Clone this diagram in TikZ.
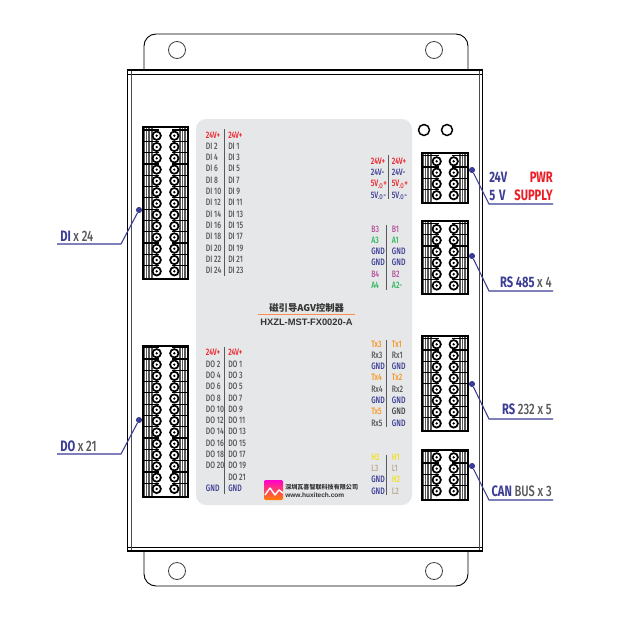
\documentclass[tikz,border=0pt]{standalone}
\usepackage{fontspec}
\newfontfamily\cf[FakeStretch=0.74]{Fira Sans Medium}
\newfontfamily\cfb[FakeStretch=0.74]{Fira Sans Bold}
\newfontfamily\cjk{Noto Sans CJK SC}
\setmainfont{Liberation Sans}
\definecolor{cred}{HTML}{ED1C24}
\definecolor{cgray}{HTML}{58595B}
\definecolor{cblue}{HTML}{3B3C94}
\definecolor{cmag}{HTML}{B5549C}
\definecolor{cgrn}{HTML}{2DB55D}
\definecolor{corg}{HTML}{F7941D}
\definecolor{cyel}{HTML}{F2E11B}
\definecolor{ctan}{HTML}{BCA98F}
\definecolor{panel}{HTML}{E6E7E8}
\tikzset{
 lbl/.style={anchor=base west,inner sep=0pt,font=\cf\fontsize{7}{7}\selectfont},
 biglbl/.style={inner sep=0pt,font=\cfb\fontsize{11.3}{12}\selectfont},
 divider/.style={draw=cgray,line width=.8pt},
 dot/.style={circle,fill=cblue,inner sep=0pt,minimum size=4.6pt},
 leader/.style={draw=cblue,line width=.8pt},
 hole/.style={draw=black!75,line width=.6pt,fill=white},
 ring/.style={draw=black,line width=1.3pt,fill=white},
 body/.style={draw=black,line width=.7pt}
}
\newcommand{\gtx}[1]{\textcolor{cgray}{\cf #1}}
\newcommand{\btx}[1]{\textcolor{cblue}{#1}}
% name, x0, x1, ytop, ybot, yfirst, rows-1, cx1, cx2
\newcommand{\termblock}[9]{%
 \fill[white] (#2,#4) rectangle (#3,#5);
 \fill[black!65] (#2,#4) rectangle ({#2+10},#5);
 \fill[black!65] ({#3-9},#4) rectangle (#3,#5);
 \foreach \dx in {2,4.5,7}{
   \draw[white,line width=.45pt] ({#2+\dx},#4) -- ({#2+\dx},#5);
   \draw[white,line width=.45pt] ({#3-\dx},#4) -- ({#3-\dx},#5);
 }
 \foreach \r in {0,...,#7}{
   \draw[black,line width=.9pt] (#2,{#6+11.3*\r-5.65}) -- ({#8+2},{#6+11.3*\r-5.65});
   \draw[black,line width=.9pt] ({#9-2},{#6+11.3*\r-5.65}) -- (#3,{#6+11.3*\r-5.65});
   \draw[ring] (#8,{#6+11.3*\r}) circle (4.2);
   \draw[ring] (#9,{#6+11.3*\r}) circle (4.2);
   \fill[black] (#8,{#6+11.3*\r}) circle (1.3);
   \fill[black] (#9,{#6+11.3*\r}) circle (1.3);
 }
 \draw[black,line width=1.2pt] (#2,#4) rectangle (#3,#5);
 \coordinate (#1) at ({(#2+#3)/2},{(#4+#5)/2});
}
\begin{document}
\begin{tikzpicture}[x=.75pt,y=-.75pt]
\useasboundingbox (0,0) rectangle (622,643);
\fill[white] (0,0) rectangle (622,643);
% flanges
\draw[body,rounded corners=9pt] (144,70) -- (144,34) -- (468,34) -- (468,70);
\draw[body,rounded corners=9pt] (144,551) -- (144,586) -- (468,586) -- (468,551);
\draw[hole] (177,50) circle (8.5);
\draw[hole] (434,50) circle (8.5);
\draw[hole] (177,571) circle (8.5);
\draw[hole] (434,571) circle (8.5);
% enclosure
\draw[line width=.9pt] (127.5,70) rectangle (482.5,551.5);
\draw[line width=.6pt] (127.5,74) -- (482.5,74);
\draw[line width=.6pt] (127.5,547.5) -- (482.5,547.5);
\draw[line width=.6pt,draw=black!70] (131,70) -- (131,551.5);
\draw[line width=.6pt,draw=black!70] (479,70) -- (479,551.5);
\draw[line width=1.3pt] (127,70) -- (483,70);
\draw[line width=1.3pt] (127,551) -- (483,551);
% panel
\fill[panel,rounded corners=7.5pt] (196,119) rectangle (412,505);
\draw[black,line width=1.1pt,fill=white] (424,130) circle (5.5);
\draw[black,line width=1.1pt,fill=white] (447,130) circle (5.5);
% terminal blocks
\termblock{tdi}{143}{188}{127}{279}{135.7}{12}{156.7}{174.3}
\termblock{tdo}{143}{188}{345.7}{497}{353.3}{12}{156.7}{174.3}
\termblock{tpw}{422}{468}{153}{203}{161.3}{3}{436.7}{453.7}
\termblock{tra}{422}{468}{220.7}{293.7}{229}{5}{436.7}{453.7}
\termblock{trb}{422}{468}{335.7}{431}{344.3}{7}{436.7}{453.7}
\termblock{tcn}{422}{468}{450}{500}{457.3}{3}{436.7}{453.7}
% DI labels
\draw[divider] (224.3,129) -- (224.3,276);
\foreach \c/\t [count=\i from 0] in {cred/24V+,cgray/DI 2,cgray/DI 4,cgray/DI 6,cgray/DI 8,cgray/DI 10,cgray/DI 12,cgray/DI 14,cgray/DI 16,cgray/DI 18,cgray/DI 20,cgray/DI 22,cgray/DI 24}
  \node[lbl,text=\c,name=dil\i] at (205.7,{138+11.3*\i}) {\t};
\foreach \c/\t [count=\i from 0] in {cred/24V+,cgray/DI 1,cgray/DI 3,cgray/DI 5,cgray/DI 7,cgray/DI 9,cgray/DI 11,cgray/DI 13,cgray/DI 15,cgray/DI 17,cgray/DI 19,cgray/DI 21,cgray/DI 23}
  \node[lbl,text=\c,name=dir\i] at (228,{138+11.3*\i}) {\t};
% DO labels
\draw[divider] (224.3,347) -- (224.3,494);
\foreach \c/\t [count=\i from 0] in {cred/24V+,cgray/DO 2,cgray/DO 4,cgray/DO 6,cgray/DO 8,cgray/DO 10,cgray/DO 12,cgray/DO 14,cgray/DO 16,cgray/DO 18,cgray/DO 20,cgray/{},cblue/GND}
  \node[lbl,text=\c,name=dol\i] at (205.7,{355.8+11.3*\i}) {\t};
\foreach \c/\t [count=\i from 0] in {cred/24V+,cgray/DO 1,cgray/DO 3,cgray/DO 5,cgray/DO 7,cgray/DO 9,cgray/DO 11,cgray/DO 13,cgray/DO 15,cgray/DO 17,cgray/DO 19,cgray/DO 21,cblue/GND}
  \node[lbl,text=\c,name=dor\i] at (228,{355.8+11.3*\i}) {\t};
% PWR labels
\draw[divider] (388.3,155) -- (388.3,199);
\foreach \c/\t [count=\i from 0] in {cred/24V+,cblue/24V-,cred/5V\textsubscript{.O}+,cblue/5V\textsubscript{.O}-}{
  \node[lbl,text=\c,name=pwl\i] at (370.7,{164.3+11.3*\i}) {\t};
  \node[lbl,text=\c,name=pwr\i] at (391.7,{164.3+11.3*\i}) {\t};
}
% RS485 labels
\draw[divider] (386.7,225) -- (386.7,290);
\foreach \c/\t [count=\i from 0] in {cmag/B3,cgrn/A3,cblue/GND,cblue/GND,cmag/B4,cgrn/A4}
  \node[lbl,text=\c,name=ral\i] at (371,{232+11.3*\i}) {\t};
\foreach \c/\t [count=\i from 0] in {cmag/B1,cgrn/A1,cblue/GND,cblue/GND,cmag/B2,cgrn/A2-}
  \node[lbl,text=\c,name=rar\i] at (391.7,{232+11.3*\i}) {\t};
% RS232 labels
\draw[divider] (386.7,340) -- (386.7,427);
\foreach \c/\t [count=\i from 0] in {corg/Tx3,cgray/Rx3,cblue/GND,corg/Tx4,cgray/Rx4,cblue/GND,corg/Tx5,cgray/Rx5}
  \node[lbl,text=\c,name=rbl\i] at (371,{347+11.3*\i}) {\t};
\foreach \c/\t [count=\i from 0] in {corg/Tx1,cgray/Rx1,cblue/GND,corg/Tx2,cgray/Rx2,cblue/GND,black!75/GND,cblue/GND}
  \node[lbl,text=\c,name=rbr\i] at (391.7,{347+11.3*\i}) {\t};
% CAN labels
\draw[divider] (386.7,455) -- (386.7,495);
\foreach \c/\t [count=\i from 0] in {cyel/H3,ctan/L3,cblue/GND,cblue/GND}
  \node[lbl,text=\c,name=cnl\i] at (371,{460.3+11.3*\i}) {\t};
\foreach \c/\t [count=\i from 0] in {cyel/H1,ctan/L1,cyel/H2,ctan/L2}
  \node[lbl,text=\c,name=cnr\i] at (391.7,{460.3+11.3*\i}) {\t};
% title
\node[inner sep=0pt,text=black!80,font=\cjk\fontsize{7}{8}\selectfont\bfseries] (title) at (306.7,307.7) {磁引导AGV控制器};
\coordinate (ula) at (258,314.3);
\coordinate (ulb) at (355,314.3);
\draw[draw=orange!70!red!70!white,line width=1pt] (ula) -- (ulb);
\node[inner sep=0pt,text=black!80,font=\fontsize{7}{8}\selectfont\bfseries] (model) at (306.5,322.5) {HXZL-MST-FX0020-A};
% logo
\shade[top color=magenta!80!red,bottom color=orange,rounded corners=1pt] (264,480) rectangle (283,500);
\draw[white,line width=1.1pt,line join=round] (265,495) -- (270,488) -- (275,495) -- (279,490) -- (283,493);
\node[inner sep=0pt,anchor=west,text=black!80,font=\cjk\fontsize{4.55}{5}\selectfont\bfseries] (cname) at (285,487.5) {深圳瓦喜智联科技有限公司};
\node[inner sep=0pt,anchor=west,text=black!80,font=\fontsize{4.9}{5}\selectfont\bfseries] (curl) at (285,495.5) {www.huxitech.com};
% callouts
\node[dot] (ddi) at (139,210) {};
\node[dot] (ddo) at (139,420) {};
\node[dot] (dpw) at (472,170) {};
\node[dot] (dra) at (472,256) {};
\node[dot] (drb) at (472,384) {};
\node[dot] (dcn) at (472,466) {};
\coordinate (edi) at (121,244); \coordinate (fdi) at (57,244);
\coordinate (edo) at (121,454); \coordinate (fdo) at (57,454);
\coordinate (epw) at (489,204); \coordinate (fpw) at (553,204);
\coordinate (era) at (489,291); \coordinate (fra) at (553,291);
\coordinate (erb) at (489,419); \coordinate (frb) at (553,419);
\coordinate (ecn) at (489,500); \coordinate (fcn) at (553,500);
\draw[leader] (ddi) -- (edi) -- (fdi);
\draw[leader] (ddo) -- (edo) -- (fdo);
\draw[leader] (dpw) -- (epw) -- (fpw);
\draw[leader] (dra) -- (era) -- (fra);
\draw[leader] (drb) -- (erb) -- (frb);
\draw[leader] (dcn) -- (ecn) -- (fcn);
\node[biglbl,anchor=base west] (ldi) at (60,241.7) {\btx{DI} \gtx{x 24}};
\node[biglbl,anchor=base west] (ldo) at (60,451.7) {\btx{DO} \gtx{x 21}};
\node[biglbl,anchor=base west,text=cblue] (lv1) at (489,182) {24V};
\node[biglbl,anchor=base east,text=cred] (lp1) at (553,182) {PWR};
\node[biglbl,anchor=base west,text=cblue] (lv2) at (489,200) {5\hspace{3pt}V};
\node[biglbl,anchor=base east,text=cred] (lp2) at (553,200) {SUPPLY};
\node[biglbl,anchor=base east] (lra) at (552,287) {\btx{RS 485} \gtx{x 4}};
\node[biglbl,anchor=base east] (lrb) at (552,414) {\btx{RS} \gtx{232 x 5}};
\node[biglbl,anchor=base east] (lcn) at (552,496) {\btx{CAN} \gtx{BUS x 3}};
\end{tikzpicture}
\end{document}
